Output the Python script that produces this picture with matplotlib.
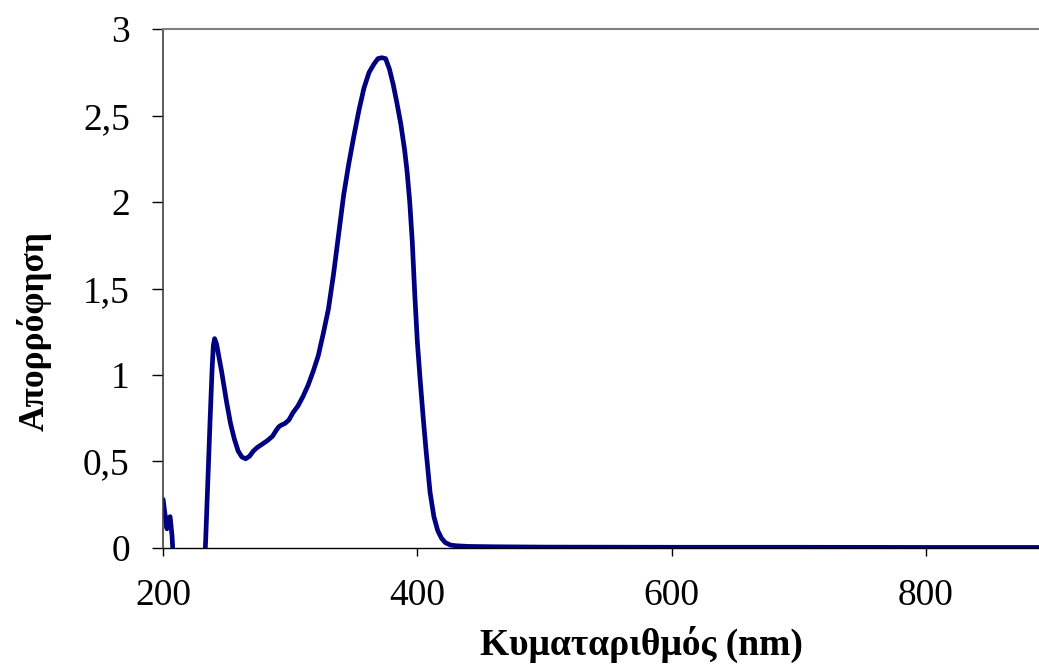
import matplotlib
matplotlib.use("Agg")
import matplotlib.pyplot as plt

# wavelength (nm) and absorbance
wavelength = [200, 201, 203, 204, 205.5, 207, 209, 215, 225, 232,
              233.5, 235.5, 237, 238.5, 239.5, 240.5, 242, 244, 246, 248,
              250, 253, 256, 259, 262, 265, 268, 271, 274, 278,
              282, 286, 289, 291, 293, 296, 299, 302, 306, 310,
              314, 318, 322, 326, 330, 334, 338, 342, 346, 350,
              354, 358, 362, 366, 369, 372, 375, 378, 381, 384,
              387, 390, 392, 394, 396, 398, 400, 402, 404.5, 407,
              410, 413, 416, 419, 422, 426, 430, 440, 460, 500,
              600, 700, 800, 890]
absorbance = [0.28, 0.22, 0.11, 0.17, 0.18, 0.07, -0.2, -0.3, -0.3, -0.2,
              0.05, 0.45, 0.75, 1.03, 1.17, 1.21, 1.18, 1.10, 1.02, 0.93,
              0.84, 0.72, 0.63, 0.56, 0.525, 0.515, 0.53, 0.56, 0.58, 0.60,
              0.62, 0.645, 0.68, 0.70, 0.71, 0.72, 0.74, 0.78, 0.82, 0.875,
              0.94, 1.02, 1.11, 1.24, 1.38, 1.58, 1.81, 2.04, 2.22, 2.38,
              2.53, 2.66, 2.75, 2.80, 2.83, 2.835, 2.83, 2.77, 2.68, 2.57,
              2.45, 2.30, 2.17, 2.00, 1.77, 1.46, 1.19, 0.99, 0.76, 0.55,
              0.32, 0.18, 0.10, 0.055, 0.03, 0.016, 0.012, 0.008, 0.006, 0.004,
              0.003, 0.003, 0.002, 0.002]

x_ticks = [200, 400, 600, 800]
y_ticks = [0, 0.5, 1, 1.5, 2, 2.5, 3]
y_tick_labels = ["0", "0,5", "1", "1,5", "2", "2,5", "3"]

plt.rcParams['font.family'] = ['Liberation Serif', 'DejaVu Serif']

fig = plt.figure(figsize=(10.39, 6.64), dpi=100)
ax = fig.add_axes([0.157, 0.175, 0.843, 0.781])

ax.plot(wavelength, absorbance, color='#000080', linewidth=3.4,
        solid_joinstyle='round', solid_capstyle='round')

ax.set_xlim(200, 889)
ax.set_ylim(0, 3)
ax.set_xticks(x_ticks)
ax.set_yticks(y_ticks)
ax.set_yticklabels(y_tick_labels)

ax.spines['right'].set_visible(False)
ax.spines['top'].set_color('#808080')
ax.spines['top'].set_linewidth(1.5)
ax.spines['left'].set_color('#404040')
ax.spines['left'].set_linewidth(1.2)
ax.spines['bottom'].set_color('black')
ax.spines['bottom'].set_linewidth(1.0)

ax.tick_params(axis='y', direction='out', length=8, width=1, pad=16, labelsize=27)
ax.tick_params(axis='x', direction='out', length=6, width=1, pad=16, labelsize=27)

ax.set_xlabel('Κυματαριθμός (nm)', fontsize=27, fontweight='bold', va='center')
ax.set_ylabel('Απορρόφηση', fontsize=25.5, fontweight='bold', va='center')
ax.xaxis.set_label_coords(0.546, -0.187)
ax.yaxis.set_label_coords(-0.147, 0.418)

fig.savefig('out.png', dpi=100)
